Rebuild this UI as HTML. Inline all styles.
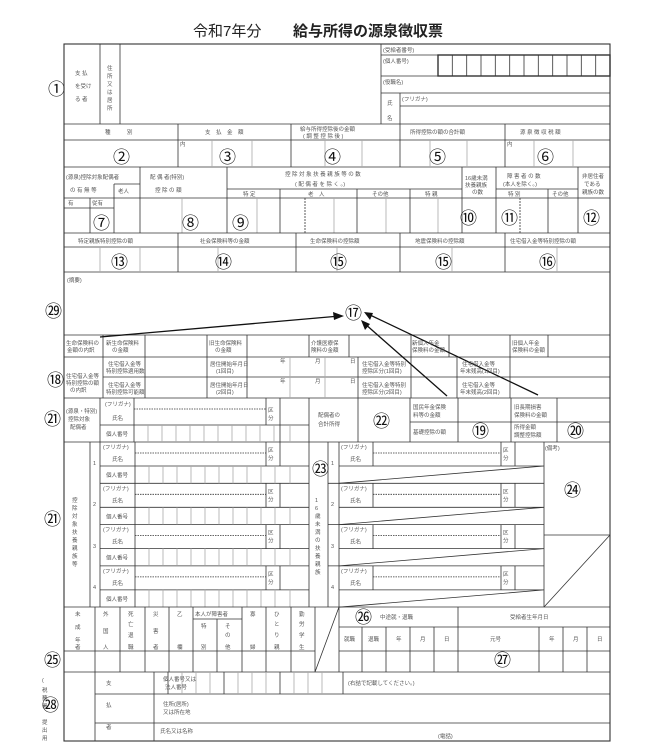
<!DOCTYPE html>
<html><head><meta charset="utf-8"><style>
html,body{margin:0;padding:0;background:#fff}
svg{display:block}
text{font-family:"Liberation Sans","Noto Sans CJK JP",sans-serif;fill:#333}
.s{font-size:5.5px;fill:#555}
.n{font-size:17px;fill:#111}
.t{font-size:15px;fill:#222}
</style></head><body>
<svg width="661" height="750" viewBox="0 0 661 750" xmlns="http://www.w3.org/2000/svg">
<text x="193" y="36" class="t">令和7年分</text>
<text x="293" y="36" class="t" font-weight="bold" font-size="16">給与所得の源泉徴収票</text>
<g stroke="#333" stroke-width="0.8" fill="none">
<rect x="64" y="44" width="546" height="697" stroke-width="1.1"/>
<path d="M100 44V124M120 44V124M381 44V124M381 55H610M381 76H610M381 93H610M400 106H610M400 93V124"/>
<rect x="438" y="55" width="172" height="21" stroke-width="1.4"/>
<path d="M452.3 55V76M466.7 55V76M481 55V76M495.3 55V76M509.7 55V76M524 55V76M538.3 55V76M552.7 55V76M567 55V76M581.3 55V76M595.7 55V76"/>
<path d="M64 124H610M64 140H610M64 167H610M178 124V167M291 124V167M400 124V167M505 124V167"/>
<path stroke="#aaa" d="M212 140V167M252 140V167M325 140V167M362 140V167M430 140V167M467 140V167M534 140V167M573 140V167"/>
<path d="M140 167V233M227 167V233M462 167V233M496 167V233M578 167V233M114 184V233M114 184H140M227 189H462M496 189H578M280 189V233M357 189V233M410 189V233M548 189V233M64 198H610M64 208H114M90 198V233"/>
<path stroke="#aaa" d="M257 198V233M334 198V233M386 198V233M438 198V233M182 198V233"/>
<path stroke-dasharray="2,1" d="M305 198V233M520 198V233"/>
<path d="M64 233H610M64 247H610M178 233V272M296 233V272M400 233V272M505 233V272M64 272H610"/>
<path stroke="#aaa" d="M100 247V272M140 247V272M218 247V272M337 247V272M452 247V272M557 247V272"/>
<path d="M64 335H610M103 335V398M145 335V398M207 335V398M247 335V398M309 335V357M349 335V357M411 335V398M449 335V357M510 335V398M548 335V357M64 357H610M103 377H610M358 357V398M457 357V398M64 398H610"/>
<path stroke="#aaa" d="M290 357V398M325 357V398"/>
<path d="M100 398V442M134 398V442M266 398V425M280 398V442M309 398V442M358 398V442M410 398V442M458 398V442M511 398V442M557 398V442M100 425H309M410 422H610M64 442H610"/>
<path stroke-dasharray="1.5,1" d="M134 409H266"/>
<path stroke="#aaa" d="M148 425V442M162 425V442M176 425V442M190 425V442M204 425V442M218 425V442M232 425V442M246 425V442M260 425V442M274 425V442M290 425V442"/>
<path d="M90 442V607M100 442V607M309 442V607M328 442V607M339 442V607M544 442V607M544 535H610"/>
<path d="M100 483.3H309M100 524.6H309M100 565.9H309M328 483.3H544M328 524.6H544M328 565.9H544"/>
<g id="blk">
<path d="M135 442V483.3M266 442V466M280 442V466M100 466H309M373 442V466M501 442V466M515 442V466M339 466H544M339 483.3L544 466"/>
<path stroke-dasharray="1.5,1" d="M135 453H266M373 453H501"/>
<path stroke="#aaa" d="M149 466V483.3M163 466V483.3M177 466V483.3M191 466V483.3M205 466V483.3M219 466V483.3M233 466V483.3M247 466V483.3M261 466V483.3M275 466V483.3M290 466V483.3"/>
</g>
<use href="#blk" y="41.3"/><use href="#blk" y="82.6"/><use href="#blk" y="123.9"/>
<path d="M610 535L544 607"/>
<path d="M64 607H610M95 607V672M120 607V672M145 607V672M169 607V672M193 607V672M242 607V672M266 607V672M291 607V672M315 607V672M339 607V672M193 619H242M217 619V672M64 651H315M339 607L315 672M458 607V672M339 627H610M339 651H610M362 627V672M386 627V672M410 627V672M434 627V672M539 627V672M563 627V672M587 627V672M64 672H610"/>
<path d="M95 672V741M154 672V741M95 694H610M95 723H610M343 672V694M168 672V694M224 672V694M280 672V694"/>
<path stroke="#aaa" d="M182 672V694M196 672V694M210 672V694M238 672V694M252 672V694M266 672V694M294 672V694M308 672V694M322 672V694"/>
<g stroke="#111" stroke-width="1.3">
<path d="M100 337L340 316"/><path d="M447 396L364 323"/><path d="M538 395L368 314"/>
</g>
</g>
<g fill="#111">
<polygon points="344,316 333,312 334,320"/>
<polygon points="361,320 365,330 370,324"/>
<polygon points="364,312 370,320 373,313"/>
</g>
<text class="s" x="75" y="75">支 払</text><text class="s" x="75" y="88">を受け</text><text class="s" x="75" y="101">る 者</text>
<text class="s" x="107" y="70">住</text><text class="s" x="107" y="78">所</text><text class="s" x="107" y="86">又</text><text class="s" x="107" y="94">は</text><text class="s" x="107" y="102">居</text><text class="s" x="107" y="110">所</text>
<text class="s" x="383" y="52">(受給者番号)</text><text class="s" x="383" y="63">(個人番号)</text><text class="s" x="383" y="84">(役職名)</text>
<text class="s" x="387" y="105">氏</text><text class="s" x="387" y="120">名</text><text class="s" x="402" y="101">(フリガナ)</text>
<text class="s" x="105" y="134">種　　　別</text><text class="s" x="205" y="134">支　払　金　額</text>
<text class="s" x="300" y="131">給与所得控除後の金額</text><text class="s" x="303" y="138">( 調 整 控 除 後 )</text>
<text class="s" x="410" y="134">所得控除の額の合計額</text><text class="s" x="520" y="134">源 泉 徴 収 税 額</text>
<text class="s" x="180" y="146">内</text><text class="s" x="507" y="146">内</text>
<text class="s" x="66" y="179">(源泉)控除対象配偶者</text><text class="s" x="70" y="192">の 有 無 等</text><text class="s" x="118" y="193">老人</text>
<text class="s" x="150" y="179" font-size="7">配 偶 者(特別)</text><text class="s" x="155" y="192" font-size="7">控 除 の 額</text>
<text class="s" x="285" y="176" font-size="6.5">控 除 対 象 扶 養 親 族 等 の 数</text><text class="s" x="295" y="186" font-size="6.5">( 配 偶 者 を 除 く 。)</text>
<text class="s" x="243" y="196">特 定</text><text class="s" x="308" y="196">老　人</text><text class="s" x="372" y="196">その他</text><text class="s" x="425" y="196">特 親</text>
<text class="s" x="465" y="180">16歳未満</text><text class="s" x="465" y="187">扶養親族</text><text class="s" x="472" y="194">の数</text>
<text class="s" x="507" y="178" font-size="6.5">障 害 者 の 数</text><text class="s" x="503" y="186" font-size="6.5">(本人を除く。)</text><text class="s" x="508" y="196">特 別</text><text class="s" x="552" y="196">その他</text>
<text class="s" x="582" y="178">非居住者</text><text class="s" x="584" y="186">である</text><text class="s" x="582" y="194">親族の数</text>
<text class="s" x="68" y="205">有</text><text class="s" x="92" y="205">従有</text>
<text class="s" x="78" y="243">特定親族特別控除の額</text><text class="s" x="200" y="243">社会保険料等の金額</text><text class="s" x="310" y="243">生命保険料の控除額</text><text class="s" x="415" y="243">地震保険料の控除額</text><text class="s" x="510" y="243">住宅借入金等特別控除の額</text>
<text class="s" x="67" y="282">(摘要)</text>
<text class="s" x="66" y="345">生命保険料の</text><text class="s" x="67" y="352">金額の内訳</text>
<text class="s" x="106" y="345">新生命保険料</text><text class="s" x="112" y="352">の金額</text>
<text class="s" x="209" y="345">旧生命保険料</text><text class="s" x="215" y="352">の金額</text>
<text class="s" x="311" y="345">介護医療保</text><text class="s" x="311" y="352">険料の金額</text>
<text class="s" x="412" y="345">新個人年金</text><text class="s" x="412" y="352">保険料の金額</text>
<text class="s" x="512" y="345">旧個人年金</text><text class="s" x="512" y="352">保険料の金額</text>
<text class="s" x="66" y="378">住宅借入金等</text><text class="s" x="66" y="385">特別控除の額</text><text class="s" x="70" y="392">の内訳</text>
<text class="s" x="108" y="366">住宅借入金等</text><text class="s" x="106" y="373">特別控除適用数</text>
<text class="s" x="108" y="387">住宅借入金等</text><text class="s" x="106" y="394">特別控除可能額</text>
<text class="s" x="210" y="366">居住開始年月日</text><text class="s" x="216" y="373">(1回目)</text>
<text class="s" x="210" y="387">居住開始年月日</text><text class="s" x="216" y="394">(2回目)</text>
<text class="s" x="280" y="363">年</text><text class="s" x="315" y="363">月</text><text class="s" x="350" y="363">日</text>
<text class="s" x="280" y="383">年</text><text class="s" x="315" y="383">月</text><text class="s" x="350" y="383">日</text>
<text class="s" x="362" y="366">住宅借入金等特別</text><text class="s" x="362" y="373">控除区分(1回目)</text>
<text class="s" x="362" y="387">住宅借入金等特別</text><text class="s" x="362" y="394">控除区分(2回目)</text>
<text class="s" x="462" y="366">住宅借入金等</text><text class="s" x="460" y="373">年末残高(1回目)</text>
<text class="s" x="462" y="387">住宅借入金等</text><text class="s" x="460" y="394">年末残高(2回目)</text>
<text class="s" x="66" y="413">(源泉・特別)</text><text class="s" x="68" y="421">控除対象</text><text class="s" x="70" y="429">配偶者</text>
<text class="s" x="105" y="406">(フリガナ)</text><text class="s" x="112" y="420">氏名</text><text class="s" x="106" y="436">個人番号</text>
<text class="s" x="268" y="412">区</text><text class="s" x="268" y="420">分</text>
<text class="s" x="318" y="417">配偶者の</text><text class="s" x="318" y="426">合計所得</text>
<text class="s" x="413" y="409">国民年金保険</text><text class="s" x="413" y="417">料等の金額</text><text class="s" x="413" y="434">基礎控除の額</text>
<text class="s" x="514" y="409">旧長期損害</text><text class="s" x="514" y="417">保険料の金額</text><text class="s" x="514" y="429">所得金額</text><text class="s" x="514" y="437">調整控除額</text>
<text class="s" x="545" y="450">(備考)</text>
<text class="s" x="72" y="502">控</text><text class="s" x="72" y="510">除</text><text class="s" x="72" y="518">対</text><text class="s" x="72" y="526">象</text><text class="s" x="72" y="534">扶</text><text class="s" x="72" y="542">養</text><text class="s" x="72" y="550">親</text><text class="s" x="72" y="558">族</text><text class="s" x="72" y="566">等</text>
<text class="s" x="315" y="502">1</text><text class="s" x="315" y="510">6</text><text class="s" x="315" y="518">歳</text><text class="s" x="315" y="526">未</text><text class="s" x="315" y="534">満</text><text class="s" x="315" y="542">の</text><text class="s" x="315" y="550">扶</text><text class="s" x="315" y="558">養</text><text class="s" x="315" y="566">親</text><text class="s" x="315" y="574">族</text>
<g id="lb"><text class="s" x="103" y="449">(フリガナ)</text><text class="s" x="112" y="461">氏名</text><text class="s" x="106" y="477">個人番号</text><text class="s" x="268" y="452">区</text><text class="s" x="268" y="460">分</text>
<text class="s" x="341" y="449">(フリガナ)</text><text class="s" x="350" y="461">氏名</text><text class="s" x="503" y="452">区</text><text class="s" x="503" y="460">分</text></g>
<use href="#lb" y="41.3"/><use href="#lb" y="82.6"/><use href="#lb" y="123.9"/>
<text class="s" x="93" y="465">1</text><text class="s" x="93" y="506">2</text><text class="s" x="93" y="548">3</text><text class="s" x="93" y="589">4</text>
<text class="s" x="331" y="465">1</text><text class="s" x="331" y="506">2</text><text class="s" x="331" y="548">3</text><text class="s" x="331" y="589">4</text>
<text class="s" x="75" y="616">未</text><text class="s" x="75" y="629">成</text><text class="s" x="75" y="642">年</text><text class="s" x="75" y="649">者</text>
<text class="s" x="103" y="616">外</text><text class="s" x="103" y="633">国</text><text class="s" x="103" y="649">人</text>
<text class="s" x="128" y="616">死</text><text class="s" x="128" y="626">亡</text><text class="s" x="128" y="637">退</text><text class="s" x="128" y="649">職</text>
<text class="s" x="153" y="616">災</text><text class="s" x="153" y="633">害</text><text class="s" x="153" y="649">者</text>
<text class="s" x="177" y="616">乙</text><text class="s" x="177" y="649">欄</text>
<text class="s" x="195" y="616">本人が障害者</text><text class="s" x="201" y="628">特</text><text class="s" x="201" y="649">別</text><text class="s" x="225" y="628">そ</text><text class="s" x="225" y="637">の</text><text class="s" x="225" y="649">他</text>
<text class="s" x="250" y="616">寡</text><text class="s" x="250" y="649">婦</text>
<text class="s" x="274" y="616">ひ</text><text class="s" x="274" y="626">と</text><text class="s" x="274" y="637">り</text><text class="s" x="274" y="649">親</text>
<text class="s" x="299" y="616">勤</text><text class="s" x="299" y="626">労</text><text class="s" x="299" y="637">学</text><text class="s" x="299" y="649">生</text>
<text class="s" x="380" y="619">中途就・退職</text><text class="s" x="510" y="619">受給者生年月日</text>
<text class="s" x="344" y="641">就職</text><text class="s" x="368" y="641">退職</text><text class="s" x="396" y="641">年</text><text class="s" x="420" y="641">月</text><text class="s" x="444" y="641">日</text>
<text class="s" x="490" y="641">元号</text><text class="s" x="549" y="641">年</text><text class="s" x="573" y="641">月</text><text class="s" x="597" y="641">日</text>
<text class="s" x="42" y="682">(</text><text class="s" x="42" y="692">税</text><text class="s" x="42" y="700">務</text><text class="s" x="42" y="708">署</text><text class="s" x="42" y="724">提</text><text class="s" x="42" y="732">出</text><text class="s" x="42" y="740">用</text>
<text class="s" x="106" y="685">支</text><text class="s" x="106" y="707">払</text><text class="s" x="106" y="729">者</text>
<text class="s" x="163" y="681">個人番号又は</text><text class="s" x="165" y="689">法人番号</text>
<text class="s" x="163" y="706">住所(居所)</text><text class="s" x="163" y="714">又は所在地</text><text class="s" x="160" y="733">氏名又は名称</text>
<text class="s" x="348" y="685">(右詰で記載してください。)</text><text class="s" x="438" y="738">(電話)</text>
<text class="n" x="48" y="95">①</text>
<text class="n" x="113" y="163">②</text><text class="n" x="219" y="163">③</text><text class="n" x="324" y="163">④</text><text class="n" x="429" y="163">⑤</text><text class="n" x="537" y="163">⑥</text>
<text class="n" x="93" y="229">⑦</text><text class="n" x="182" y="229">⑧</text><text class="n" x="232" y="229">⑨</text><text class="n" x="460" y="224">⑩</text><text class="n" x="501" y="224">⑪</text><text class="n" x="583" y="224">⑫</text>
<text class="n" x="111" y="268">⑬</text><text class="n" x="215" y="268">⑭</text><text class="n" x="330" y="268">⑮</text><text class="n" x="435" y="268">⑮</text><text class="n" x="539" y="268">⑯</text>
<text class="n" x="45" y="317">㉙</text><text class="n" x="345" y="319">⑰</text><text class="n" x="47" y="386">⑱</text>
<text class="n" x="44" y="425">㉑</text><text class="n" x="373" y="427">㉒</text><text class="n" x="472" y="437">⑲</text><text class="n" x="567" y="437">⑳</text>
<text class="n" x="312" y="475">㉓</text><text class="n" x="564" y="496">㉔</text><text class="n" x="44" y="525">㉑</text>
<text class="n" x="355" y="623">㉖</text><text class="n" x="44" y="666">㉕</text><text class="n" x="494" y="666">㉗</text><text class="n" x="42" y="711">㉘</text>
</svg>
</body></html>
